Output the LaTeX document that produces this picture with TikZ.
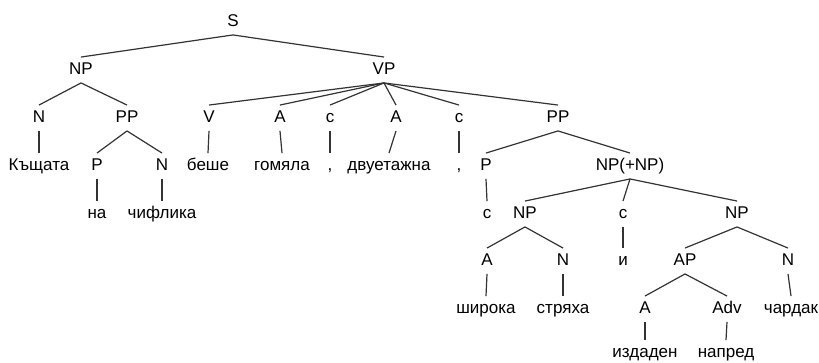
\documentclass[tikz,border=0pt]{standalone}
\usepackage{fontspec}
\setmainfont{Liberation Sans}
\begin{document}
\begin{tikzpicture}[x=1pt,y=-1pt,
  knoten/.style={inner sep=5pt,text height=12.5pt,text depth=3pt,
    text=black,font=\fontsize{17}{20}\selectfont},
  kante/.style={line width=1.2pt,black!80}]
  \useasboundingbox (0,0) rectangle (819,363);
  % Kategorien und Woerter
  \node[knoten] (S)    at (233,22)  {S};
  \node[knoten] (NP)   at (81,70)   {NP};
  \node[knoten] (VP)   at (384,70)  {VP};
  \node[knoten] (N1)   at (39,118)  {N};
  \node[knoten] (PP1)  at (127,118) {PP};
  \node[knoten] (V)    at (209,118) {V};
  \node[knoten] (A1)   at (280,118) {A};
  \node[knoten] (c1)   at (330,118) {c};
  \node[knoten] (A2)   at (396,118) {A};
  \node[knoten] (c2)   at (459,118) {c};
  \node[knoten] (PP2)  at (558,118) {PP};
  \node[knoten] (w1)   at (39,166)  {Къщата};
  \node[knoten] (P1)   at (97,166)  {P};
  \node[knoten] (N2)   at (162,166) {N};
  \node[knoten] (w2)   at (208,166) {беше};
  \node[knoten] (w3)   at (282,166) {гомяла};
  \node[knoten] (k1)   at (330,166) {,};
  \node[knoten] (w4)   at (389,166) {двуетажна};
  \node[knoten] (k2)   at (459,166) {,};
  \node[knoten] (P2)   at (486,166) {P};
  \node[knoten] (NPP)  at (630,166) {NP(+NP)};
  \node[knoten] (w5)   at (97,214)  {на};
  \node[knoten] (w6)   at (162,214) {чифлика};
  \node[knoten] (w7)   at (487,214) {с};
  \node[knoten] (NP2)  at (525,214) {NP};
  \node[knoten] (c3)   at (623,214) {c};
  \node[knoten] (NP3)  at (737,214) {NP};
  \node[knoten] (A3)   at (487,261) {A};
  \node[knoten] (N3)   at (563,261) {N};
  \node[knoten] (w8)   at (623,261) {и};
  \node[knoten] (AP)   at (685,261) {AP};
  \node[knoten] (N4)   at (788,261) {N};
  \node[knoten] (w9)   at (486,309) {широка};
  \node[knoten] (w10)  at (563,309) {стряха};
  \node[knoten] (A4)   at (645,309) {A};
  \node[knoten] (Adv)  at (727,309) {Adv};
  \node[knoten] (w11)  at (791,309) {чардак};
  \node[knoten] (w12)  at (645,353) {издаден};
  \node[knoten] (w13)  at (726,353) {напред};
  % Kanten
  \foreach \a/\b in {S/NP,S/VP,NP/N1,NP/PP1,N1/w1,PP1/P1,PP1/N2,P1/w5,N2/w6,
      VP/V,VP/A1,VP/c1,VP/A2,VP/c2,VP/PP2,V/w2,A1/w3,c1/k1,A2/w4,c2/k2,
      PP2/P2,PP2/NPP,P2/w7,NPP/NP2,NPP/c3,NPP/NP3,NP2/A3,NP2/N3,A3/w9,N3/w10,
      c3/w8,NP3/AP,NP3/N4,N4/w11,AP/A4,AP/Adv,A4/w12,Adv/w13}
    \draw[kante] (\a.south) -- (\b.north);
\end{tikzpicture}
\end{document}
